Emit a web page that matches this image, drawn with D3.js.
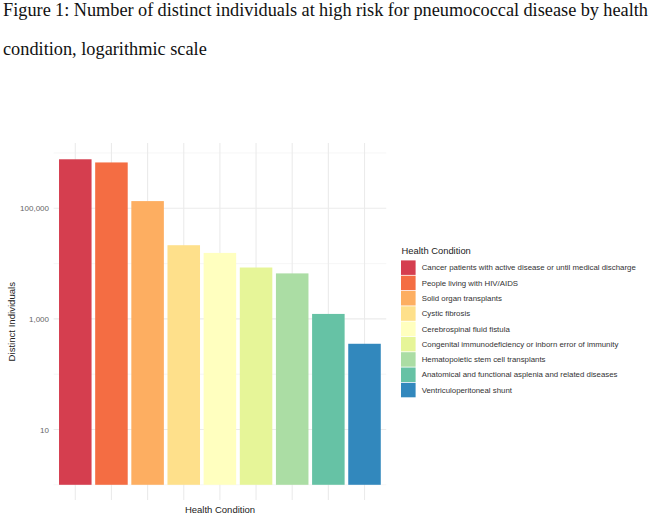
<!DOCTYPE html>
<html><head><meta charset="utf-8">
<script src="https://cdn.jsdelivr.net/npm/d3@7"></script>
<style>body{margin:0;background:#fff}svg{display:block}</style>
</head><body>
<svg id="c" width="650" height="519"></svg>
<script>
const categories = [
  "Cancer patients with active disease or until medical discharge",
  "People living with HIV/AIDS",
  "Solid organ transplants",
  "Cystic fibrosis",
  "Cerebrospinal fluid fistula",
  "Congenital immunodeficiency or inborn error of immunity",
  "Hematopoietic stem cell transplants",
  "Anatomical and functional asplenia and related diseases",
  "Ventriculoperitoneal shunt"
];
const values = [770000, 675000, 135000, 21500, 15600, 8500, 6650, 1230, 355];
const colors = ["#D53E4F","#F46D43","#FDAE61","#FEE08B","#FFFFBF","#E6F598","#ABDDA4","#66C2A5","#3288BD"];
const majorTicks = [10, 1000, 100000];
const minorTicks = [1, 100, 10000, 1000000];
const titleLines = ["Figure 1: Number of distinct individuals at high risk for pneumococcal disease by health",
                    "condition, logarithmic scale"];

const svg = d3.select("#c");
const P = {l:53.6, r:386.2, t:143, b:500};

// title (justified first line, like the document it came from)
const serif = "'Liberation Serif','Times New Roman',serif";
const tg = svg.append("g");
const t2 = tg.append("text").attr("x",3).attr("y",55).text(titleLines[1])
  .style("font-family",serif).style("font-size","18px").attr("fill","#111");
const fs = 18*204/t2.node().getComputedTextLength();
t2.style("font-size", fs+"px");
const t1 = tg.append("text").attr("x",3).attr("y",16).text(titleLines[0])
  .style("font-family",serif).style("font-size",fs+"px").attr("fill","#111");
const w1 = t1.node().getComputedTextLength();
const gaps = titleLines[0].split(" ").length - 1;
t1.style("word-spacing", ((645 - w1)/gaps) + "px");

const x = d3.scaleBand().domain(categories).range([P.l,P.r]).paddingInner(0.1).paddingOuter(0.15);
const y = d3.scaleLog().domain([1,1e6]).range([484.8,153]);

const grid = svg.append("g");
minorTicks.forEach(v=>{
  grid.append("line").attr("x1",P.l).attr("x2",P.r).attr("y1",y(v)).attr("y2",y(v))
    .attr("stroke","#F0F0F0").attr("stroke-width",0.6);
});
majorTicks.forEach(v=>{
  grid.append("line").attr("x1",P.l).attr("x2",P.r).attr("y1",y(v)).attr("y2",y(v))
    .attr("stroke","#EBEBEB").attr("stroke-width",1.1);
});
categories.forEach(c=>{
  const cx = x(c)+x.bandwidth()/2;
  grid.append("line").attr("x1",cx).attr("x2",cx).attr("y1",P.t).attr("y2",P.b)
    .attr("stroke","#EBEBEB").attr("stroke-width",1.1);
});

// bars
svg.append("g").selectAll("rect").data(categories).join("rect")
  .attr("x",d=>x(d)).attr("width",x.bandwidth())
  .attr("y",(d,i)=>y(values[i])).attr("height",(d,i)=>y(1)-y(values[i]))
  .attr("fill",(d,i)=>colors[i]);

// y axis
const sans = "Arial,'Liberation Sans',sans-serif";
const yAxis = d3.axisLeft(y).tickValues(majorTicks).tickFormat(d3.format(",")).tickSize(0).tickPadding(0);
const ya = svg.append("g").attr("transform",`translate(${49},0)`).call(yAxis);
ya.select(".domain").remove();
ya.selectAll("text").style("font-family",sans).style("font-size","8px").attr("fill","#666");

svg.append("text").attr("transform","translate(15,321.7) rotate(-90)").attr("text-anchor","middle")
  .text("Distinct Individuals").style("font-family",sans).style("font-size","9.6px").attr("fill","#222");
svg.append("text").attr("x",220).attr("y",513).attr("text-anchor","middle")
  .text("Health Condition").style("font-family",sans).style("font-size","9.5px").attr("fill","#222");

// legend
const lg = svg.append("g");
lg.append("text").attr("x",401.5).attr("y",254).text("Health Condition")
  .style("font-family",sans).style("font-size","9.4px").attr("fill","#222");
const step = 15.3;
categories.forEach((c,i)=>{
  const yy = 260 + i*step;
  lg.append("rect").attr("x",401).attr("y",yy+0.4).attr("width",14.6).attr("height",step-0.8).attr("fill",colors[i]);
  lg.append("text").attr("x",421.7).attr("y",yy+step/2).attr("dy","0.35em").text(c)
    .style("font-family",sans).style("font-size","7.85px").attr("fill","#333");
});
</script>
</body></html>
